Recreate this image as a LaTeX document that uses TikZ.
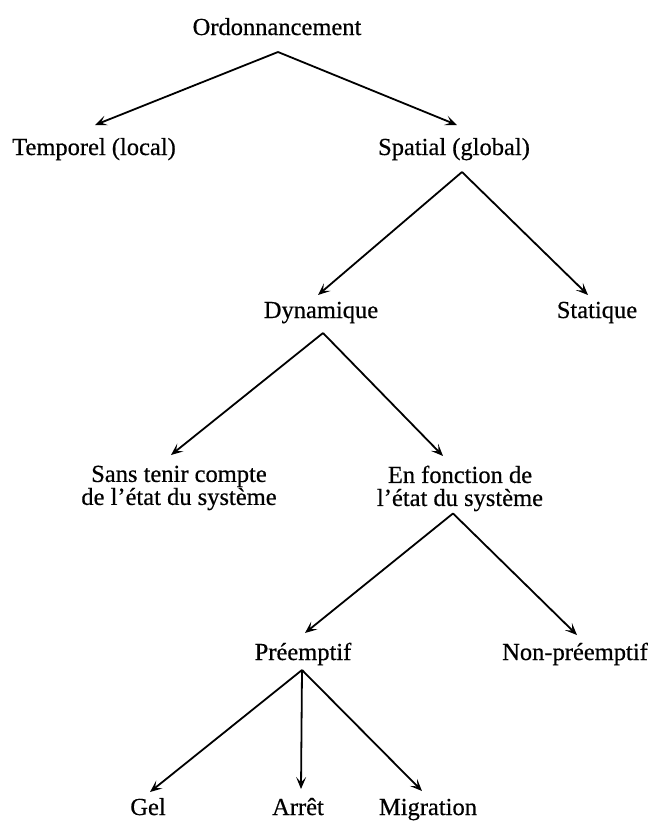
\documentclass[tikz,border=0pt]{standalone}
\usepackage{fontspec}
\setmainfont{Liberation Serif}[FakeBold=0.5]
\usetikzlibrary{arrows.meta,calc}
\begin{document}
\begin{tikzpicture}[x=1pt,y=-1pt,
  lbl/.style={inner sep=0pt, font=\fontsize{24.5}{23}\selectfont},
  one/.style={lbl, anchor=base},
  two/.style={lbl, anchor=north, align=center},
  arr/.style={line width=1.8pt, line join=round, -{Stealth[length=12pt,width=10pt,inset=5.5pt]}}]
\useasboundingbox (0,0) rectangle (658,822);
% labels
\node[one] (ord)  at (277,35)  {Ordonnancement};
\node[one] (temp) at (94,155)  {Temporel (local)};
\node[one] (spat) at (454,155) {Spatial (global)};
\node[one] (dyn)  at (321,318) {Dynamique};
\node[one] (stat) at (597,318) {Statique};
\node[two] (sans) at (179,465.5) {Sans tenir compte\\de l'état du système};
\node[two] (enf)  at (460,465.5) {En fonction de\\l'état du système};
\node[one] (pre)  at (303,660) {Préemptif};
\node[one] (non)  at (575,660) {Non-préemptif};
\node[one] (gel)  at (148,815) {Gel};
\node[one] (arr)  at (298,815) {Arrêt};
\node[one] (mig)  at (428,815) {Migration};
% connectors
\draw[arr] ($(ord.base)+(1,17)$) -- ($(temp.base)+(1,-30)$);
\draw[arr] ($(ord.base)+(1,17)$) -- ($(spat.base)+(3,-30)$);
\draw[arr] ($(spat.base)+(8,17)$) -- ($(dyn.base)+(-3,-23)$);
\draw[arr] ($(spat.base)+(8,17)$) -- ($(stat.base)+(-9,-23)$);
\draw[arr] ($(dyn.base)+(2,15)$) -- ($(sans.north)+(-8,-10.5)$);
\draw[arr] ($(dyn.base)+(2,15)$) -- ($(enf.north)+(-17,-9.5)$);
\draw[arr] ($(enf.south)+(-7,2)$) -- ($(pre.base)+(2,-27)$);
\draw[arr] ($(enf.south)+(-7,2)$) -- ($(non.base)+(2,-25)$);
\draw[arr] ($(pre.base)+(-1,10)$) -- ($(gel.base)+(2,-23)$);
\draw[arr] ($(pre.base)+(-1,10)$) -- ($(arr.base)+(3,-26)$);
\draw[arr] ($(pre.base)+(-1,10)$) -- ($(mig.base)+(-6,-24)$);
\end{tikzpicture}
\end{document}
